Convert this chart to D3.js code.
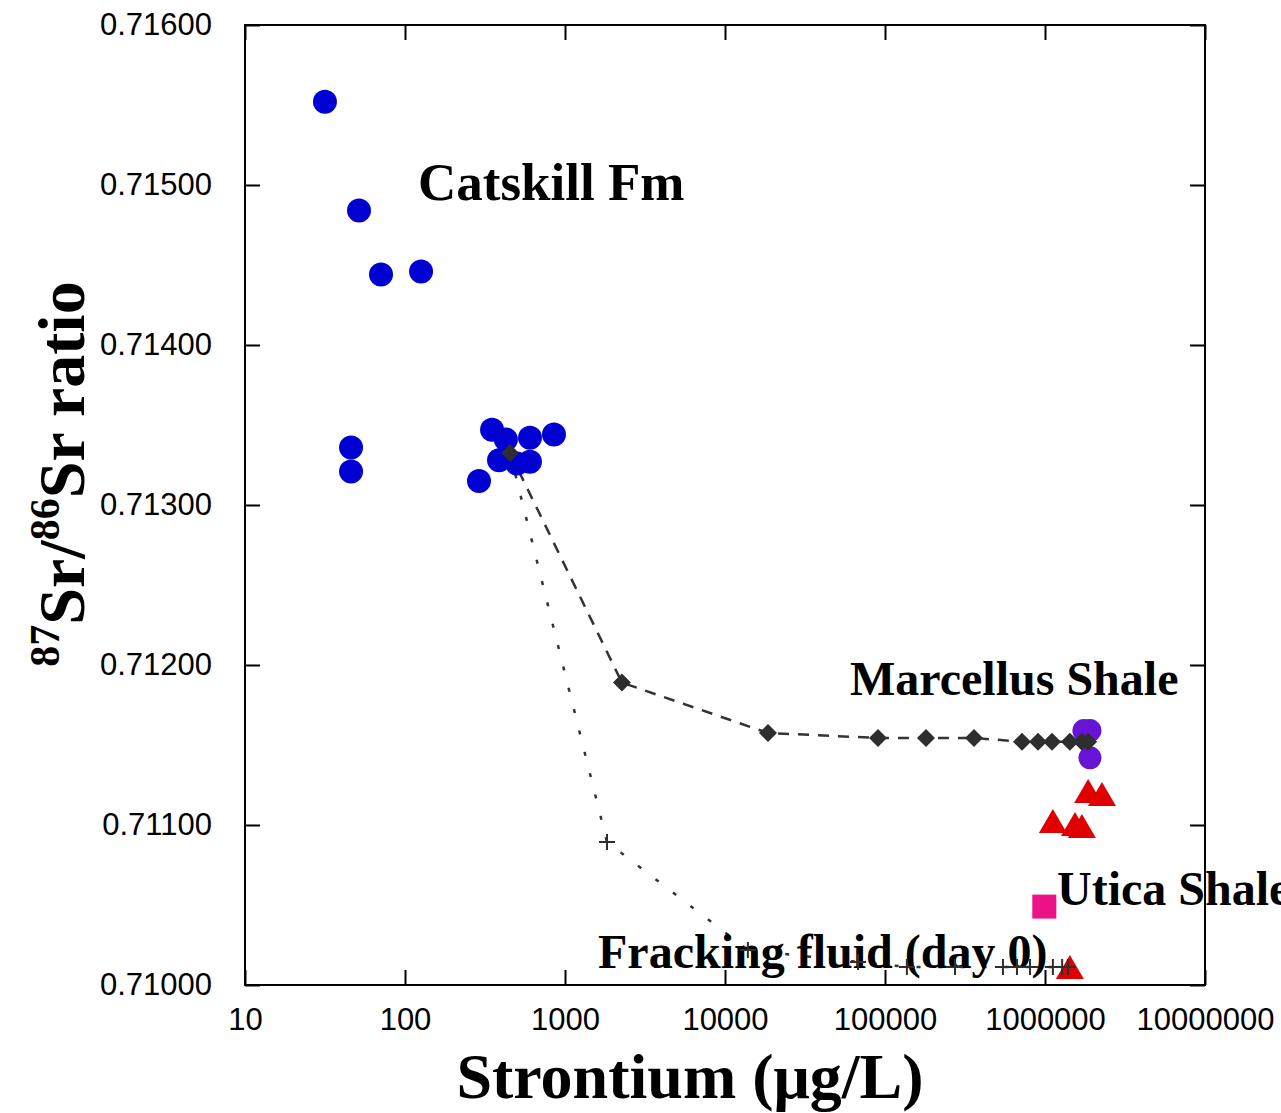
<!DOCTYPE html>
<html lang="en">
<head>
  <meta charset="UTF-8">
  <title>Sr isotopes vs Sr concentration</title>
  <style>
    body {
      margin: 0;
      background: #fff;
    }
    svg {
      display: block;
    }
    .tick-label {
      font-family: "Liberation Sans", Arial, sans-serif;
      font-size: 31px;
      fill: #000;
    }
    .lbl {
      font-family: "Liberation Serif", "Times New Roman", serif;
      font-weight: bold;
      fill: #000;
    }
  </style>
</head>
<body>
  <svg id="chart" width="1281" height="1113"></svg>

  <script src="https://cdn.jsdelivr.net/npm/d3@7/dist/d3.min.js"></script>
  <script>
    // [Sr (ug/L), 87Sr/86Sr]
    const catskill = [
      [31.6, 0.71552], [51.6, 0.71484], [70.8, 0.71444], [126, 0.71446],
      [46, 0.71336], [46, 0.71321], [290, 0.71315], [350, 0.71347],
      [427, 0.71341], [387, 0.71328], [501, 0.71326], [604, 0.71342],
      [604, 0.71327], [853, 0.71344]
    ];
    const marcellus = [[1.75e6, 0.71159], [1.91e6, 0.71159], [1.91e6, 0.71142]];
    const produced = [
      [1.86e6, 0.711213], [2.27e6, 0.711194], [1.12e6, 0.711025],
      [1.54e6, 0.711006], [1.70e6, 0.710994], [1.43e6, 0.710113]
    ];
    const utica = [[9.9e5, 0.71049]];
    // mixing model: Catskill water + Marcellus brine
    const brineMix = [
      [453, 0.713325], [2270, 0.71189], [18570, 0.711575], [90400, 0.711544],
      [180400, 0.711544], [360000, 0.711544], [718000, 0.71152], [904000, 0.71152],
      [1.106e6, 0.71152], [1.43e6, 0.71152], [1.70e6, 0.71152], [1.86e6, 0.71152]
    ];
    // mixing model: Catskill water + fracking fluid (day 0)
    const fluidMix = [
      [1830, 0.710894], [13900, 0.710219], [67800, 0.710144], [137000, 0.710113],
      [274000, 0.710113], [546000, 0.710113], [668000, 0.710113], [806000, 0.710113],
      [1.12e6, 0.710113], [1.28e6, 0.710113], [1.39e6, 0.710113]
    ];
    const xTicks = [10, 100, 1000, 10000, 100000, 1000000, 10000000];
    const yTicks = [0.710, 0.711, 0.712, 0.713, 0.714, 0.715, 0.716];

    const mLeft = 245, mTop = 25, w = 960, h = 960;
    const svg = d3.select("#chart");

    const x = d3.scaleLog().domain([10, 1e7]).range([mLeft, mLeft + w]);
    const y = d3.scaleLinear().domain([0.710, 0.716]).range([mTop + h, mTop]);

    // axes, ticks inward on all four sides
    const tl = 15;
    svg.append("g")
      .attr("transform", `translate(0,${mTop + h})`)
      .call(d3.axisBottom(x).tickValues(xTicks).tickSize(-tl).tickPadding(23).tickFormat(d3.format("d")))
      .call(g => g.select(".domain").remove())
      .call(g => g.selectAll("line").attr("stroke", "#000").attr("stroke-width", 2))
      .call(g => g.selectAll("text").attr("class", "tick-label"));
    svg.append("g")
      .attr("transform", `translate(0,${mTop})`)
      .call(d3.axisTop(x).tickValues(xTicks).tickSize(-tl).tickFormat(""))
      .call(g => g.select(".domain").remove())
      .call(g => g.selectAll("line").attr("stroke", "#000").attr("stroke-width", 2));
    svg.append("g")
      .attr("transform", `translate(${mLeft},0)`)
      .call(d3.axisLeft(y).tickValues(yTicks).tickSize(-tl).tickPadding(33).tickFormat(d3.format(".5f")))
      .call(g => g.select(".domain").remove())
      .call(g => g.selectAll("line").attr("stroke", "#000").attr("stroke-width", 2))
      .call(g => g.selectAll("text").attr("class", "tick-label"));
    svg.append("g")
      .attr("transform", `translate(${mLeft + w},0)`)
      .call(d3.axisRight(y).tickValues(yTicks).tickSize(-tl).tickFormat(""))
      .call(g => g.select(".domain").remove())
      .call(g => g.selectAll("line").attr("stroke", "#000").attr("stroke-width", 2));
    svg.selectAll("g").attr("font-size", null).attr("font-family", null);

    svg.append("rect")
      .attr("x", mLeft).attr("y", mTop).attr("width", w).attr("height", h)
      .attr("fill", "none").attr("stroke", "#000").attr("stroke-width", 2);

    // mixing lines
    const line = d3.line().x(d => x(d[0])).y(d => y(d[1]));
    svg.append("path")
      .attr("d", line(brineMix))
      .attr("fill", "none").attr("stroke", "#333").attr("stroke-width", 2.5)
      .attr("stroke-dasharray", "11,9");
    svg.append("path")
      .attr("d", line([brineMix[0]].concat(fluidMix)))
      .attr("fill", "none").attr("stroke", "#333").attr("stroke-width", 2.5)
      .attr("stroke-dasharray", "4,18");

    // labels (drawn under the markers)
    const label = (txt, lx, ly, size) => svg.append("text").attr("class", "lbl")
      .attr("x", lx).attr("y", ly).attr("font-size", size).text(txt);
    label("Catskill Fm", 418, 200, 53);
    label("Marcellus Shale", 850, 695, 48);
    label("Utica Shale", 1057, 905, 48);
    label("Fracking fluid (day 0)", 598, 968, 48);

    svg.append("g").selectAll("circle").data(catskill).join("circle")
      .attr("cx", d => x(d[0])).attr("cy", d => y(d[1])).attr("r", 12)
      .attr("fill", "#0000d2");

    svg.append("g").selectAll("circle").data(marcellus).join("circle")
      .attr("cx", d => x(d[0])).attr("cy", d => y(d[1])).attr("r", 11.5)
      .attr("fill", "#6615d6");

    svg.append("g").selectAll("path").data(produced).join("path")
      .attr("transform", d => `translate(${x(d[0])},${y(d[1])})`)
      .attr("d", "M0,-12L14,12L-14,12Z")
      .attr("fill", "#e00000");

    svg.append("g").selectAll("rect").data(utica).join("rect")
      .attr("x", d => x(d[0]) - 12).attr("y", d => y(d[1]) - 12)
      .attr("width", 24).attr("height", 24)
      .attr("fill", "#ee1289");

    svg.append("g").selectAll("path").data(brineMix).join("path")
      .attr("transform", d => `translate(${x(d[0])},${y(d[1])})`)
      .attr("d", "M0,-9L9,0L0,9L-9,0Z")
      .attr("fill", "#2e2e2e");

    svg.append("g").selectAll("path").data(fluidMix).join("path")
      .attr("transform", d => `translate(${x(d[0])},${y(d[1])})`)
      .attr("d", "M-8,0H8M0,-8V8")
      .attr("stroke", "#2e2e2e").attr("stroke-width", 2);

    // axis titles
    svg.append("text").attr("class", "lbl")
      .attr("x", 690).attr("y", 1098).attr("text-anchor", "middle")
      .attr("font-size", 64).text("Strontium (\u03bcg/L)");

    const yt = svg.append("text").attr("class", "lbl")
      .attr("transform", "translate(84,474) rotate(-90)")
      .attr("text-anchor", "middle").attr("font-size", 66);
    yt.append("tspan").attr("font-size", 42).attr("dy", -25).text("87");
    yt.append("tspan").attr("dy", 25).text("Sr/");
    yt.append("tspan").attr("font-size", 42).attr("dy", -25).text("86");
    yt.append("tspan").attr("dy", 25).text("Sr ratio");
  </script>
</body>
</html>
